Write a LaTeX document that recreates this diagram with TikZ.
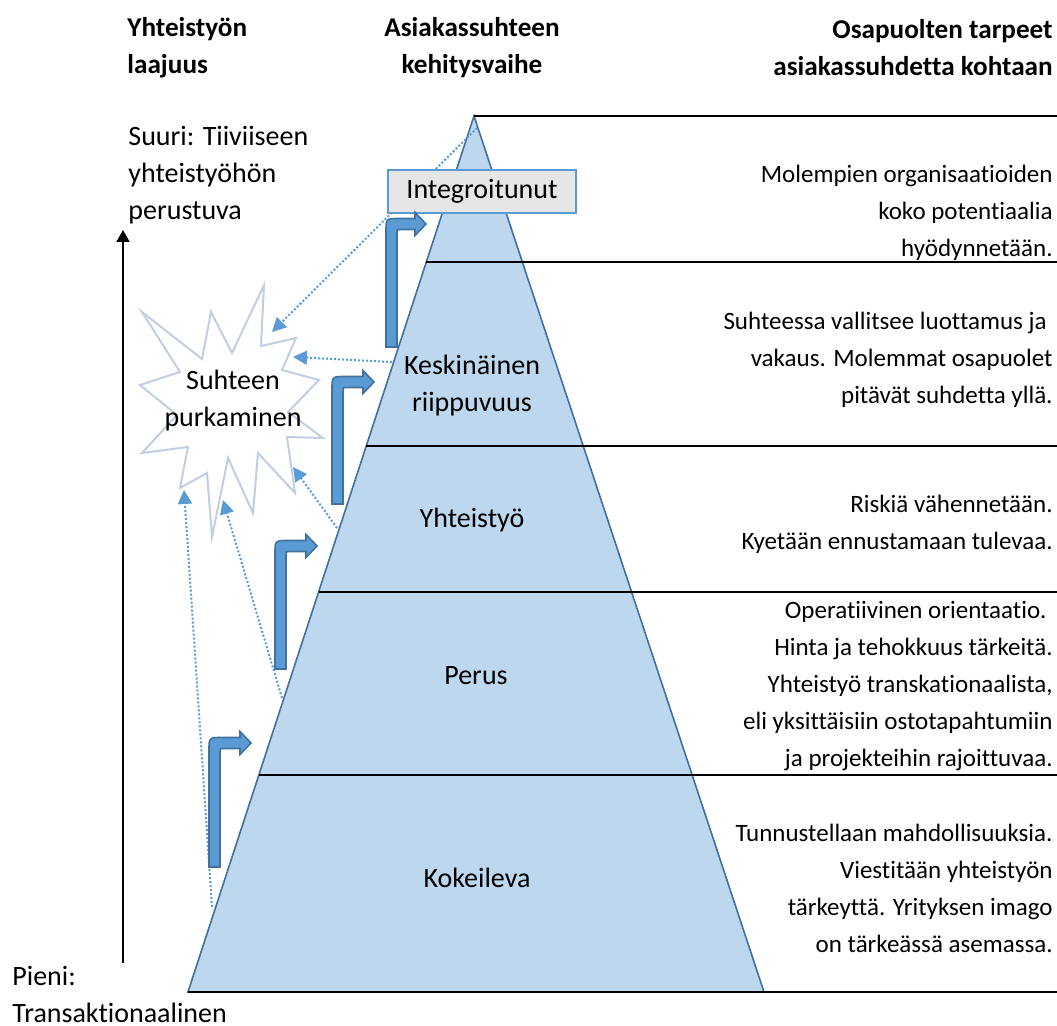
\documentclass[tikz,border=0pt]{standalone}
\usepackage{fontspec}
\setmainfont{Carlito}[Ligatures=NoCommon]
\usepackage{tikz}
\usetikzlibrary{positioning,calc,arrows.meta}
\definecolor{pyrfill}{RGB}{189,215,238}
\definecolor{pyrline}{RGB}{65,113,156}
\definecolor{arrblue}{RGB}{91,155,213}
\definecolor{starline}{RGB}{192,207,226}
\definecolor{boxgray}{RGB}{231,230,230}
\newcommand{\bentarrow}[4]{%
  \filldraw[fill=arrblue, draw=pyrline, line width=0.8pt]
    (#1,#2) -- (#1,#3+7.5) .. controls (#1,#3-5.5) .. (#1+13,#3-5.5)
    -- (#4-11,#3-5.5) -- (#4-11,#3-11.5) -- (#4,#3) -- (#4-11,#3+11.5)
    -- (#4-11,#3+5.5) -- (#1+14,#3+5.5) .. controls (#1+11,#3+5.5) .. (#1+11,#3+8.5)
    -- (#1+11,#2) -- cycle;}

\begin{document}
\begin{tikzpicture}[x=0.5pt, y=-0.5pt,
  every node/.style={font=\fontsize{12.5}{18.5}\selectfont, inner sep=0pt},
  head/.style={font=\fontsize{13.6}{18.5}\selectfont\bfseries},
  big/.style={font=\fontsize{14}{18.5}\selectfont},
  level/.style={line width=1pt},
  dotarrow/.style={arrblue, line width=1pt, dash pattern=on 1pt off 1pt,
    -{Triangle[length=7pt,width=7pt]}}]
\useasboundingbox (0,0) rectangle (1057,1026);

\node[head, align=left, anchor=west] (hscope) at (127,48) {Yhteistyön\\laajuus};
\node[head, align=center] (hstage) at (472,48) {Asiakassuhteen\\kehitysvaihe};
\node[head, align=right, anchor=east] (hneeds) at (1053,48) {Osapuolten tarpeet\\asiakassuhdetta kohtaan};

\node[big, align=left, anchor=west] (large) at (128,175) {Suuri: Tiiviiseen\\yhteistyöhön\\perustuva};
\node[big, align=left, anchor=west] (small) at (12,994) {Pieni:\\Transaktionaalinen};
\coordinate (axlow) at (123,963);
\coordinate (axhigh) at (123,230);
\draw[line width=1pt, -{Triangle[length=6pt,width=6.5pt]}] (axlow) -- (axhigh);

\coordinate (apex) at (474,116);
\coordinate (bl) at (188,992);
\coordinate (br) at (764,992);
\coordinate (edge) at (1057,0);
\filldraw[fill=pyrfill, draw=pyrline, line width=0.8pt] (apex) -- (bl) -- (br) -- cycle;

\coordinate (lvA) at ($(apex)!0.1667!(bl)$);
\coordinate (lvB) at ($(apex)!0.3767!(bl)$);
\coordinate (lvC) at ($(apex)!0.5434!(bl)$);
\coordinate (lvD) at ($(apex)!0.7523!(bl)$);
\draw[level]
  (apex) -- (apex -| edge)
  (lvA) -- (lvA -| edge)
  (lvB) -- (lvB -| edge)
  (lvC) -- (lvC -| edge)
  (lvD) -- (lvD -| edge)
  (bl) -- (bl -| edge);

\filldraw[draw=starline, line width=1pt, fill=white]
  (142,312) -- (202,359) -- (211,312) -- (232,353) -- (264,285) -- (261,346)
  -- (296,338) -- (282,370) -- (319,380) -- (288,412) -- (323,438) -- (287,437)
  -- (295,493) -- (258,453) -- (253,513) -- (228,458) -- (212,537) -- (207,473)
  -- (180,488) -- (188,447) -- (142,453) -- (177,415) -- (140,385) -- (180,372) -- cycle;
\node[big, align=center] (breakup) at (233,401) {Suhteen\\purkaminen};

\coordinate (t1) at (477,128);
\coordinate (t2) at (392,362);
\coordinate (t3) at (337,528);
\coordinate (t4) at (282,698);
\coordinate (t5) at (212,907);
\coordinate (h1) at (272,332);
\coordinate (h2) at (293,357);
\coordinate (h3) at (293,467);
\coordinate (h4) at (223,500);
\coordinate (h5) at (184,490);
\draw[dotarrow] (t1) -- (h1);
\draw[dotarrow] (t2) -- (h2);
\draw[dotarrow] (t3) -- (h3);
\draw[dotarrow] (t4) -- (h4);
\draw[dotarrow] (t5) -- (h5);

\node[big, draw=arrblue, fill=boxgray, line width=1pt, minimum width=94pt, minimum height=21.5pt] (integ) at (482,191.5) {Integroitunut};
\node[big, align=center] (keski) at (472,386) {Keskinäinen\\riippuvuus};
\node[big] (yhteis) at (472,520) {Yhteistyö};
\node[big] (perus) at (476,676) {Perus};
\node[big] (kokeil) at (477,878) {Kokeileva};

\bentarrow{209}{867}{743}{251}
\bentarrow{275}{669}{546}{317}
\bentarrow{332}{504}{382}{374}
\bentarrow{386}{347}{224}{426}

\node[align=right, anchor=east] (needA) at (1053,213) {Molempien organisaatioiden\\koko potentiaalia\hspace*{4pt}\\hyödynnetään.};
\node[align=right, anchor=east] (needB) at (1053,360) {Suhteessa vallitsee luottamus ja\hspace*{3pt}\\vakaus. Molemmat osapuolet\hspace*{3pt}\\pitävät suhdetta yllä.};
\node[align=right, anchor=east] (needC) at (1053,524.5) {Riskiä vähennetään.\\Kyetään ennustamaan tulevaa.};
\node[align=right, anchor=east] (needD) at (1053,686.5) {Operatiivinen orientaatio.\hspace*{3pt}\\Hinta ja tehokkuus tärkeitä.\\Yhteistyö transkationaalista,\\eli yksittäisiin ostotapahtumiin\\ja projekteihin rajoittuvaa.};
\node[align=right, anchor=east] (needE) at (1053,888.5) {Tunnustellaan mahdollisuuksia.\\Viestitään yhteistyön\\tärkeyttä. Yrityksen imago\\on tärkeässä asemassa.};
\end{tikzpicture}
\end{document}
